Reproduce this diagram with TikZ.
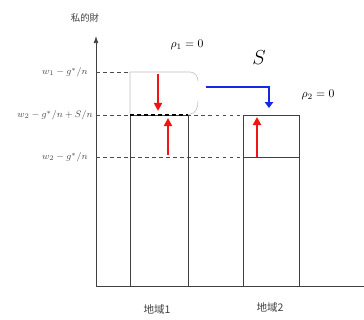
\documentclass[tikz,border=0pt]{standalone}
\usepackage{fontspec}
\newfontfamily\jpfont{Noto Sans CJK JP}
\usepackage{tikz}
\usetikzlibrary{arrows.meta, positioning, calc}
\usepackage{amsmath, amssymb}
\definecolor{shiftblue}{RGB}{20, 40, 230}
\definecolor{shiftred}{RGB}{240, 20, 20}

\begin{document}
\begin{tikzpicture}[x=0.03cm, y=-0.03cm,
    box/.style={draw=black!75, line width=0.5pt},
    lightbox/.style={draw=black!25, line width=0.5pt},
    guide/.style={draw=black!70, dashed, line width=0.5pt},
    redarrow/.style={draw=shiftred, line width=1.7pt, -{Triangle[width=7pt, length=7pt]}},
    bluearrow/.style={draw=shiftblue, line width=1.7pt, -{Triangle[width=7pt, length=5pt]}},
    lvl/.style={anchor=east, inner sep=1pt, font=\footnotesize, text=black!70}]
  \useasboundingbox (0,0) rectangle (364,320);

  % axes
  \coordinate (origin) at (96,286);
  \coordinate (ytop) at (96,36);
  \coordinate (xend) at (364,286);
  \draw[black!75, line width=0.6pt, -{Latex[length=6pt, width=4pt]}] (xend) -- (origin) -- (ytop);
  \node[font=\jpfont\footnotesize, text=black!75] (ylab) at (85,18) {私的財};

  % levels
  \node[lvl] (top) at (89,72) {$w_1 - g^{*}/n$};
  \node[lvl] (mid) at (94,115) {$w_2 - g^{*}/n + S/n$};
  \node[lvl] (low) at (89,157) {$w_2 - g^{*}/n$};
  \draw[guide] (96,72) -- (130,72);
  \draw[guide] (96,115) -- (243,115);
  \draw[guide] (96,157) -- (243,157);

  % region 1
  \draw[lightbox] (130,115) -- (130,72) -- (190,72) to[out=0, in=90] (198,81);
  \draw[lightbox] (198,101) to[out=-90, in=0] (190,114) -- (188,115);
  \draw[box] (130,115) rectangle (188,286);
  \draw[black, line width=0.9pt, dashed] (130,115) -- (188,115);
  \draw[redarrow] (158,74) -- (158,111);
  \draw[redarrow] (168,155) -- (168,118);
  \node (rho1) at (187,45) {$\rho_1 = 0$};

  % region 2
  \draw[box] (243,115) rectangle (299,286);
  \draw[box] (243,157) -- (299,157);
  \draw[redarrow] (257,157) -- (257,117);
  \node (rho2) at (318,95) {$\rho_2 = 0$};

  % transfer
  \draw[bluearrow] (206,87) -- (269,87) -- (269,108);
  \node[font=\LARGE] (S) at (259,58) {$S$};

  % regions
  \node[font=\jpfont\small, text=black!75] (r1) at (157,309) {地域1};
  \node[font=\jpfont\small, text=black!75] (r2) at (270,307) {地域2};
\end{tikzpicture}
\end{document}
